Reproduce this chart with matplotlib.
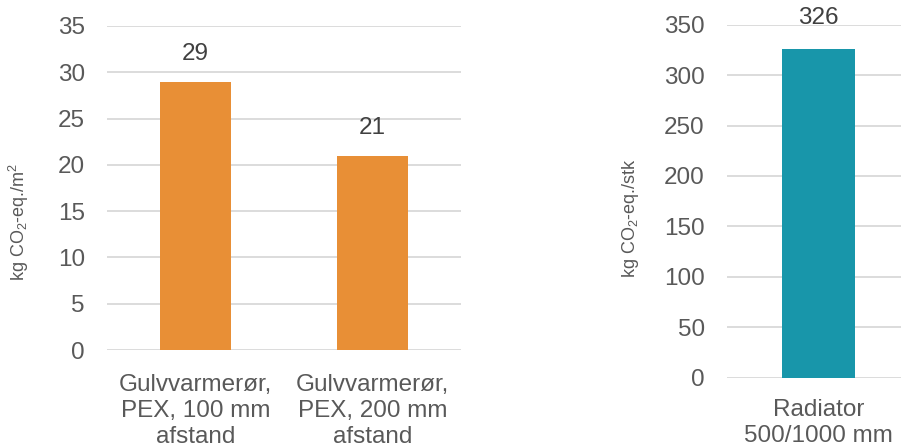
import matplotlib
matplotlib.use("Agg")
import matplotlib.pyplot as plt

plt.rcParams["font.family"] = ["Liberation Sans", "DejaVu Sans"]
plt.rcParams["mathtext.fontset"] = "custom"
plt.rcParams["mathtext.rm"] = "Liberation Sans"
plt.rcParams["mathtext.it"] = "Liberation Sans:italic"
plt.rcParams["mathtext.default"] = "regular"

# floor heating pipes, per m2
pipe_labels = ["Gulvvarmerør,\nPEX, 100 mm\nafstand", "Gulvvarmerør,\nPEX, 200 mm\nafstand"]
pipe_values = [29, 21]

# radiator, per piece
rad_labels = ["Radiator\n500/1000 mm"]
rad_values = [326]

TXT = "#595959"
VAL = "#404040"
GRID = "#D9D9D9"


def style(ax, ymax, step, ylabel, xpad):
    ax.set_ylim(0, ymax)
    ax.set_yticks(range(0, ymax + 1, step))
    for s in ax.spines.values():
        s.set_visible(False)
    ax.grid(axis="y", color=GRID, lw=1.3)
    ax.set_axisbelow(True)
    ax.tick_params(axis="both", length=0, labelsize=17.5, colors=TXT)
    ax.tick_params(axis="y", pad=16)
    ax.tick_params(axis="x", pad=xpad)
    ax.set_ylabel(ylabel, fontsize=13, color=TXT)


fig = plt.figure(figsize=(9.01, 4.48), dpi=100)

ax1 = fig.add_axes([107 / 901, 98 / 448, 354 / 901, 324 / 448])
x1 = range(len(pipe_values))
ax1.bar(x1, pipe_values, width=0.4, color="#E88F36")
ax1.set_xlim(-0.5, 1.5)
ax1.set_xticks(list(x1))
ax1.set_xticklabels(pipe_labels, linespacing=1.26)
style(ax1, 35, 5, "kg CO$_2$-eq./m$^2$", 17)
ax1.yaxis.set_label_coords(-0.215, 0.395)
for xi, v in zip(x1, pipe_values):
    ax1.annotate(str(v), (xi, v), xytext=(0, 20), textcoords="offset points",
                 ha="center", va="center", fontsize=17.5, color=VAL)

ax2 = fig.add_axes([727 / 901, 70.3 / 448, 183 / 901, 353 / 448])
x2 = range(len(rad_values))
ax2.bar(x2, rad_values, width=0.4, color="#1896AA")
ax2.set_xlim(-0.5, 0.5)
ax2.set_xticks(list(x2))
ax2.set_xticklabels(rad_labels, linespacing=1.26)
style(ax2, 350, 50, "kg CO$_2$-eq./stk", 15)
ax2.yaxis.set_label_coords(-0.47, 0.452)
for xi, v in zip(x2, rad_values):
    ax2.annotate(str(v), (xi, v), xytext=(0, 22), textcoords="offset points",
                 ha="center", va="center", fontsize=17.5, color=VAL)

fig.savefig("out.png", dpi=100)
